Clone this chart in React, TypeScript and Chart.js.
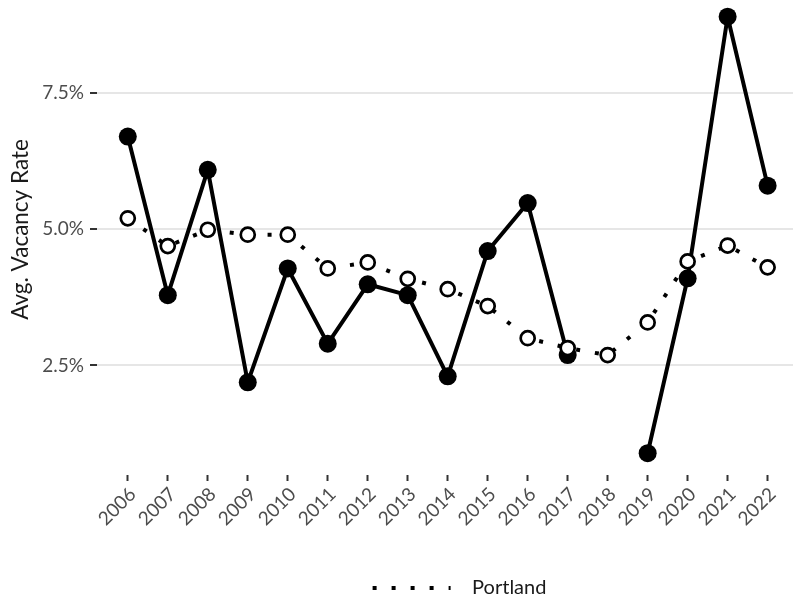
import React, { useEffect, useRef } from 'react';
import { Chart, registerables } from 'chart.js';

Chart.register(...registerables);

// ---- data ----
const years = [2006, 2007, 2008, 2009, 2010, 2011, 2012, 2013, 2014, 2015, 2016, 2017, 2018, 2019, 2020, 2021, 2022];
const portland = [5.2, 4.69, 4.99, 4.9, 4.9, 4.28, 4.39, 4.09, 3.9, 3.59, 3.0, 2.82, 2.69, 3.29, 4.41, 4.7, 4.3];
const submarket: (number | null)[] = [6.7, 3.79, 6.09, 2.19, 4.28, 2.9, 3.99, 3.79, 2.3, 4.6, 5.48, 2.69, null, 0.89, 4.1, 8.9, 5.8];
const yTicks = [2.5, 5.0, 7.5];
const yTitle = 'Avg. Vacancy Rate';
const legendLabel = 'Portland';
const otherLabel = 'Submarket';

const CANVAS_W = 822;
const CANVAS_H = 630;
const CANVAS_TOP = -16;
const FONT = 'Lato, "DejaVu Sans", sans-serif';

export default function App() {
  const ref = useRef<HTMLCanvasElement>(null);

  useEffect(() => {
    const canvas = ref.current;
    if (!canvas) return;
    const chart = new Chart(canvas, {
      type: 'line',
      data: {
        datasets: [
          {
            label: legendLabel,
            data: years.map((x, i) => ({ x, y: portland[i] })),
            borderColor: '#000',
            borderWidth: 4,
            borderDash: [4, 15],
            borderCapStyle: 'butt',
            pointRadius: 7,
            pointHoverRadius: 7,
            pointBorderWidth: 2.7,
            pointBackgroundColor: '#fff',
            pointBorderColor: '#000',
            fill: false,
            tension: 0,
          },
          {
            label: otherLabel,
            data: years.map((x, i) => ({ x, y: submarket[i] })),
            borderColor: '#000',
            borderWidth: 4,
            borderJoinStyle: 'round',
            pointRadius: 9,
            pointHoverRadius: 9,
            pointBorderWidth: 0,
            pointBackgroundColor: '#000',
            pointBorderColor: '#000',
            spanGaps: false,
            fill: false,
            tension: 0,
          },
        ],
      },
      options: {
        responsive: false,
        animation: false,
        devicePixelRatio: 1,
        events: [],
        layout: { autoPadding: false, padding: { left: 0, right: 0, top: 0, bottom: 6 } },
        scales: {
          x: {
            type: 'linear',
            min: 2005.23,
            max: 2023.36,
            afterBuildTicks: (s: any) => {
              s.ticks = years.map((v) => ({ value: v }));
            },
            afterFit: (s: any) => {
              s.height = 93;
              s.paddingLeft = 0;
              s.paddingRight = 0;
            },
            grid: {
              display: true,
              drawOnChartArea: false,
              drawTicks: true,
              tickLength: 6,
              tickWidth: 2,
              tickColor: '#333',
            },
            border: { display: false },
            ticks: {
              autoSkip: false,
              minRotation: 45,
              maxRotation: 45,
              color: '#4d4d4d',
              font: { family: FONT, size: 19 },
              padding: 2,
              labelOffset: 5,
              callback: (v: any) => String(v),
            },
          },
          y: {
            type: 'linear',
            min: 0.49,
            max: 9.5,
            afterBuildTicks: (s: any) => {
              s.ticks = yTicks.map((v) => ({ value: v }));
            },
            afterFit: (s: any) => {
              s.width = 97;
              s.paddingTop = 0;
              s.paddingBottom = 0;
            },
            grid: {
              color: '#e6e6e6',
              lineWidth: 2,
              drawTicks: true,
              tickLength: 7,
              tickWidth: 2,
              tickColor: '#333',
            },
            border: { display: false },
            ticks: {
              color: '#4d4d4d',
              font: { family: FONT, size: 19 },
              padding: 6,
              callback: (v: any) => Number(v).toFixed(1) + '%',
            },
            title: {
              display: true,
              text: yTitle,
              color: '#1a1a1a',
              font: { family: FONT, size: 22.5 },
              padding: { top: 7, bottom: 0 },
            },
          },
        },
        plugins: {
          tooltip: { enabled: false },
          legend: {
            position: 'bottom',
            fullSize: false,
            onClick: () => {},
            labels: {
              usePointStyle: true,
              pointStyleWidth: 89.5,
              padding: 10,
              color: '#1a1a1a',
              font: { family: FONT, size: 20 },
              generateLabels: () => [
                {
                  text: legendLabel,
                  fillStyle: 'rgba(0,0,0,0)',
                  strokeStyle: '#000',
                  lineWidth: 4,
                  lineDash: [4, 15, 4, 15, 4, 15, 4, 15, 2, 100],
                  lineCap: 'butt',
                  pointStyle: 'line',
                  hidden: false,
                  datasetIndex: 0,
                  fontColor: '#1a1a1a',
                } as any,
              ],
            },
          },
        },
      } as any,
    });
    return () => chart.destroy();
  }, []);

  return (
    <div
      style={{
        position: 'fixed',
        left: 0,
        top: 0,
        width: 793,
        height: 600,
        overflow: 'hidden',
        background: '#fff',
      }}
    >
      <canvas
        ref={ref}
        width={CANVAS_W}
        height={CANVAS_H}
        style={{ position: 'absolute', left: 0, top: CANVAS_TOP, width: CANVAS_W, height: CANVAS_H }}
      />
    </div>
  );
}
